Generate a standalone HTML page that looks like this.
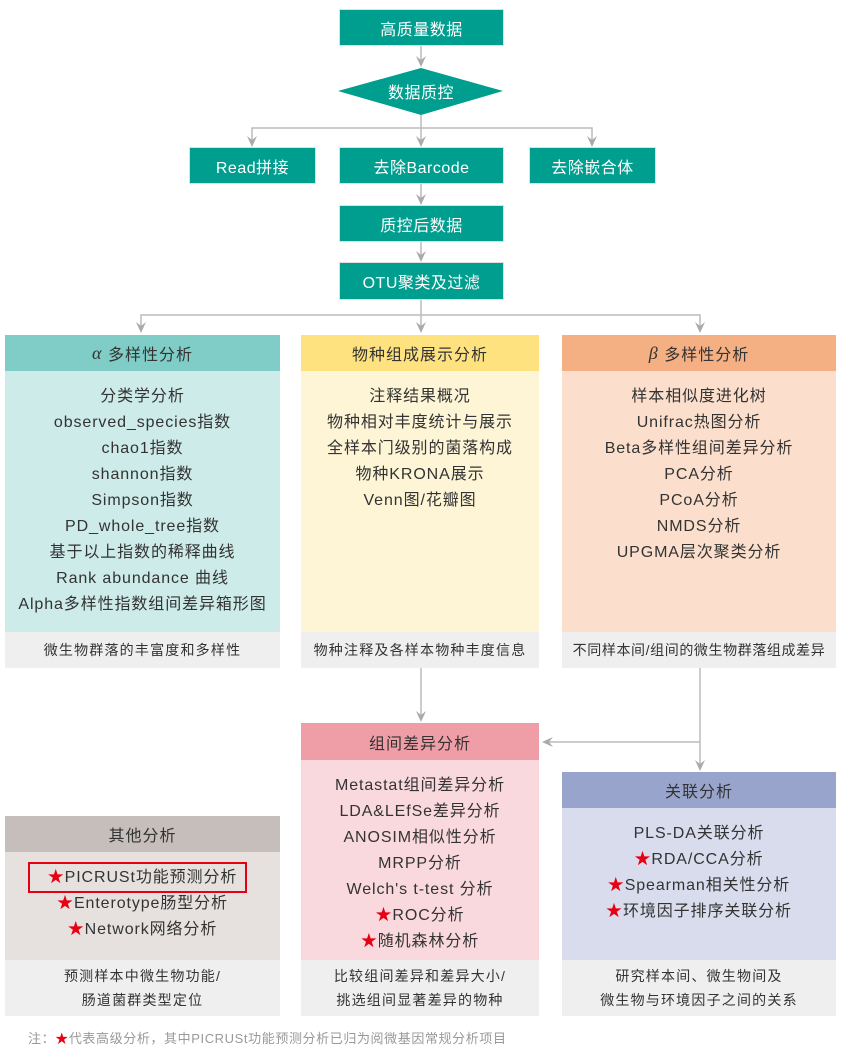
<!DOCTYPE html>
<html><head><meta charset="utf-8"><style>
body{margin:0;width:844px;height:1057px;background:#fff;position:relative;overflow:hidden;font-family:"Liberation Sans","Noto Sans CJK SC",sans-serif;color:#333}
.b{position:absolute;background:#009e8f;color:#fff;font-size:16px;display:flex;align-items:center;justify-content:center;box-shadow:0 0 0 1px #e0e0e0;letter-spacing:0.5px}
.p{position:absolute;}
.h{position:absolute;left:0;right:0;display:flex;align-items:center;justify-content:center;font-size:16px;color:#333;letter-spacing:1px}
.bd{position:absolute;left:0;right:0;text-align:center;font-size:16px;line-height:26px;color:#333;letter-spacing:0.9px;white-space:nowrap}
.ft{position:absolute;left:0;right:0;background:#efefef;text-align:center;font-size:14px;line-height:24px;display:flex;flex-direction:column;justify-content:center;color:#333;letter-spacing:1.2px;white-space:nowrap}
.s{color:#e60012}
</style></head><body>
<svg width="844" height="1057" style="position:absolute;left:0;top:0">
<g stroke="#bbb" stroke-width="1.5" fill="none">
<line x1="421" y1="45" x2="421" y2="64"/>
<line x1="421" y1="115" x2="421" y2="144"/>
<polyline points="252,144 252,128 592,128 592,144"/>
<line x1="421" y1="183" x2="421" y2="202"/>
<line x1="421" y1="241" x2="421" y2="259"/>
<line x1="421" y1="299" x2="421" y2="330"/>
<polyline points="141,330 141,315 700,315 700,330"/>
<line x1="421" y1="668" x2="421" y2="718"/>
<line x1="700" y1="668" x2="700" y2="768"/>
<line x1="700" y1="742" x2="548" y2="742"/>
</g>
<g fill="#aaa">
<path d="M416,56 L421,67 L426,56 L421,60Z"/>
<path d="M247,136 L252,147 L257,136 L252,140Z"/>
<path d="M416,136 L421,147 L426,136 L421,140Z"/>
<path d="M587,136 L592,147 L597,136 L592,140Z"/>
<path d="M416,194 L421,205 L426,194 L421,198Z"/>
<path d="M416,251 L421,262 L426,251 L421,255Z"/>
<path d="M136,322 L141,333 L146,322 L141,326Z"/>
<path d="M416,322 L421,333 L426,322 L421,326Z"/>
<path d="M695,322 L700,333 L705,322 L700,326Z"/>
<path d="M416,711 L421,722 L426,711 L421,715Z"/>
<path d="M695,760 L700,771 L705,760 L700,764Z"/>
<path d="M553,737 L542,742 L553,747 L549,742Z"/>
</g>
<polygon points="421,68 503,91 421,115 338,91" fill="#009e8f"/>
</svg>
<div class="b" style="left:340px;top:10px;width:163px;height:35px">高质量数据</div>
<div class="b" style="left:360px;top:76px;width:122px;height:30px;background:none;box-shadow:none">数据质控</div>
<div class="b" style="left:190px;top:148px;width:125px;height:35px">Read拼接</div>
<div class="b" style="left:340px;top:148px;width:163px;height:35px">去除Barcode</div>
<div class="b" style="left:530px;top:148px;width:125px;height:35px">去除嵌合体</div>
<div class="b" style="left:340px;top:206px;width:163px;height:35px">质控后数据</div>
<div class="b" style="left:340px;top:263px;width:163px;height:36px">OTU聚类及过滤</div>

<div class="p" style="left:5px;top:335px;width:275px;height:333px;background:#cdebe8">
<div class="h" style="top:0;height:36px;background:#7fcdc6"><i style="font-family:'Liberation Serif',serif;font-size:18px">α</i>&nbsp;多样性分析</div>
<div class="bd" style="top:49px">分类学分析<br>observed_species指数<br>chao1指数<br>shannon指数<br>Simpson指数<br>PD_whole_tree指数<br>基于以上指数的稀释曲线<br>Rank abundance 曲线<br>Alpha多样性指数组间差异箱形图</div>
<div class="ft" style="top:297px;height:36px">微生物群落的丰富度和多样性</div></div>

<div class="p" style="left:301px;top:335px;width:238px;height:333px;background:#fdf5d6">
<div class="h" style="top:0;height:36px;background:#fde27f">物种组成展示分析</div>
<div class="bd" style="top:49px">注释结果概况<br>物种相对丰度统计与展示<br>全样本门级别的菌落构成<br>物种KRONA展示<br>Venn图/花瓣图</div>
<div class="ft" style="top:297px;height:36px">物种注释及各样本物种丰度信息</div></div>

<div class="p" style="left:562px;top:335px;width:274px;height:333px;background:#fbdfcc">
<div class="h" style="top:0;height:36px;background:#f4b083"><i style="font-family:'Liberation Serif',serif;font-size:18px">β</i>&nbsp;多样性分析</div>
<div class="bd" style="top:49px">样本相似度进化树<br>Unifrac热图分析<br>Beta多样性组间差异分析<br>PCA分析<br>PCoA分析<br>NMDS分析<br>UPGMA层次聚类分析</div>
<div class="ft" style="top:297px;height:36px;letter-spacing:0.6px">不同样本间/组间的微生物群落组成差异</div></div>

<div class="p" style="left:301px;top:723px;width:238px;height:293px;background:#f9d9de">
<div class="h" style="top:0;height:37px;background:#ef9ea8">组间差异分析</div>
<div class="bd" style="top:50px">Metastat组间差异分析<br>LDA&amp;LEfSe差异分析<br>ANOSIM相似性分析<br>MRPP分析<br>Welch's t-test 分析<br><span class="s">★</span>ROC分析<br><span class="s">★</span>随机森林分析</div>
<div class="ft" style="top:237px;height:56px">比较组间差异和差异大小/<br>挑选组间显著差异的物种</div></div>

<div class="p" style="left:562px;top:772px;width:274px;height:244px;background:#d8dcec">
<div class="h" style="top:0;height:36px;background:#98a4cc">关联分析</div>
<div class="bd" style="top:49px">PLS-DA关联分析<br><span class="s">★</span>RDA/CCA分析<br><span class="s">★</span>Spearman相关性分析<br><span class="s">★</span>环境因子排序关联分析</div>
<div class="ft" style="top:188px;height:56px">研究样本间、微生物间及<br>微生物与环境因子之间的关系</div></div>

<div class="p" style="left:5px;top:816px;width:275px;height:200px;background:#e6e1df">
<div class="h" style="top:0;height:36px;background:#c5bebb">其他分析</div>
<div class="bd" style="top:49px"><span class="s">★</span>PICRUSt功能预测分析<br><span class="s">★</span>Enterotype肠型分析<br><span class="s">★</span>Network网络分析</div>
<div class="ft" style="top:144px;height:56px">预测样本中微生物功能/<br>肠道菌群类型定位</div></div>
<div style="position:absolute;left:28px;top:862px;width:215px;height:27px;border:2px solid #e60012"></div>

<div style="position:absolute;left:28px;top:1028px;font-size:13px;color:#999;letter-spacing:0.6px;white-space:nowrap">注：<span class="s">★</span>代表高级分析，其中PICRUSt功能预测分析已归为阅微基因常规分析项目</div>
</body></html>
